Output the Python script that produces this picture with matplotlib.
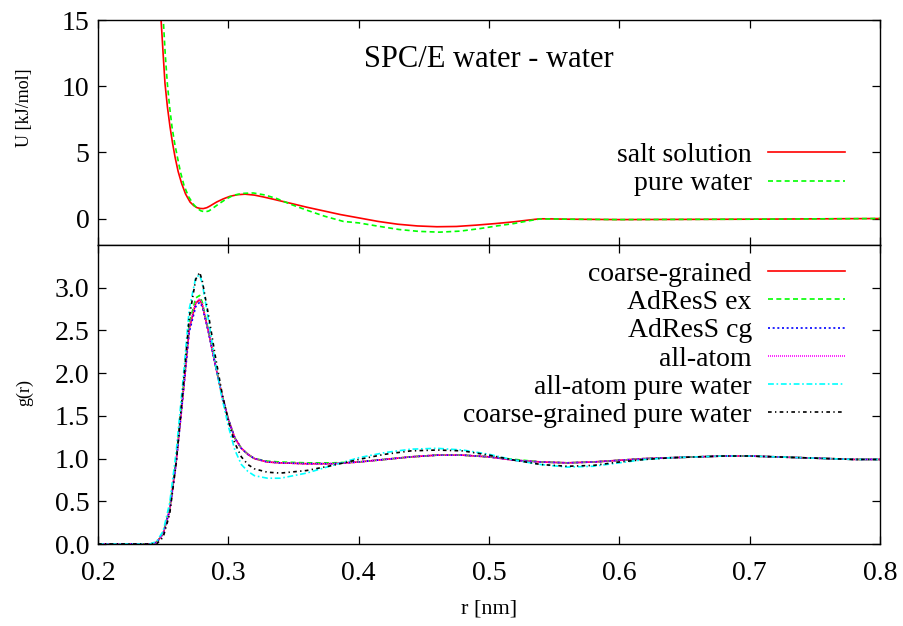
import matplotlib as mpl
mpl.use('Agg')
import matplotlib.pyplot as plt
import numpy as np

plt.rcParams['font.family'] = ['Liberation Serif', 'DejaVu Serif']

# Top panel: potential U(r)
r_u_salt = [0.2460, 0.2484, 0.2500, 0.2514, 0.2533, 0.2553, 0.2572, 0.2591, 0.2615, 0.2642,
            0.2672, 0.2706, 0.2735, 0.2760, 0.2785, 0.2808, 0.2835, 0.2860, 0.2885, 0.2911,
            0.2960, 0.3013, 0.3070, 0.3128, 0.3200, 0.3269, 0.3340, 0.3400, 0.3474, 0.3600,
            0.3730, 0.3860, 0.4000, 0.4150, 0.4300, 0.4450, 0.4600, 0.4750, 0.4900, 0.5050,
            0.5190, 0.5300, 0.5390, 0.5500, 0.5600, 0.6000, 0.7000, 0.8000]
u_salt = [18.0, 15.0, 12.4, 10.2, 8.4, 6.9, 5.7, 4.65, 3.55, 2.64,
          1.85, 1.25, 0.97, 0.82, 0.76, 0.75, 0.82, 0.95, 1.10, 1.25,
          1.48, 1.68, 1.80, 1.84, 1.77, 1.63, 1.47, 1.33, 1.16, 0.86,
          0.58, 0.30, 0.05, -0.22, -0.43, -0.56, -0.62, -0.60, -0.50, -0.38,
          -0.25, -0.12, -0.02, -0.03, -0.05, -0.08, -0.05, 0.0]

r_u_pure = [0.2478, 0.2501, 0.2516, 0.2532, 0.2550, 0.2568, 0.2588, 0.2609, 0.2633, 0.2660,
            0.2695, 0.2732, 0.2760, 0.2790, 0.2821, 0.2850, 0.2870, 0.2895, 0.2923, 0.2980,
            0.3039, 0.3110, 0.3192, 0.3280, 0.3371, 0.3480, 0.3602, 0.3740, 0.3883, 0.4000,
            0.4150, 0.4310, 0.4460, 0.4620, 0.4780, 0.4930, 0.5060, 0.5190, 0.5300, 0.5390,
            0.5500, 0.5600, 0.6000, 0.7000, 0.8000]
u_pure = [18.0, 15.0, 12.4, 10.2, 8.4, 6.9, 5.7, 4.65, 3.5, 2.5,
          1.65, 1.08, 0.78, 0.58, 0.50, 0.57, 0.70, 0.88, 1.08, 1.45,
          1.76, 1.90, 1.93, 1.78, 1.51, 1.07, 0.63, 0.17, -0.22, -0.33,
          -0.58, -0.83, -0.97, -1.03, -0.95, -0.76, -0.56, -0.38, -0.18, -0.03,
          -0.03, -0.05, -0.08, -0.05, 0.0]

# Bottom panel: radial distribution g(r)
r_g = [0.200, 0.240, 0.245, 0.250, 0.255, 0.260, 0.265, 0.270, 0.275, 0.278,
       0.280, 0.285, 0.290, 0.295, 0.300, 0.305, 0.310, 0.315, 0.320, 0.330,
       0.340, 0.360, 0.380, 0.400, 0.420, 0.440, 0.460, 0.480, 0.500, 0.520,
       0.540, 0.560, 0.580, 0.600, 0.620, 0.640, 0.660, 0.680, 0.700, 0.720,
       0.740, 0.760, 0.780, 0.800]

g_cg = [0.00, 0.00, 0.02, 0.12, 0.40, 0.97, 1.72, 2.52, 2.82, 2.86,
        2.80, 2.47, 2.10, 1.75, 1.46, 1.24, 1.12, 1.05, 1.00, 0.96,
        0.95, 0.94, 0.94, 0.96, 0.99, 1.02, 1.04, 1.04, 1.02, 0.98,
        0.96, 0.95, 0.96, 0.98, 1.00, 1.01, 1.02, 1.03, 1.03, 1.02,
        1.01, 1.00, 0.99, 0.99]
g_adress_ex = [0.00, 0.00, 0.02, 0.13, 0.42, 1.00, 1.76, 2.58, 2.88, 2.91,
               2.83, 2.48, 2.10, 1.75, 1.46, 1.24, 1.12, 1.05, 1.00, 0.97,
               0.96, 0.95, 0.95, 0.96, 0.99, 1.02, 1.04, 1.04, 1.02, 0.99,
               0.96, 0.95, 0.96, 0.98, 1.00, 1.01, 1.02, 1.03, 1.03, 1.02,
               1.01, 1.00, 0.99, 0.99]
g_adress_cg = [0.00, 0.00, 0.02, 0.12, 0.39, 0.95, 1.70, 2.48, 2.78, 2.83,
               2.78, 2.46, 2.09, 1.75, 1.46, 1.24, 1.12, 1.05, 1.00, 0.96,
               0.95, 0.94, 0.94, 0.96, 0.99, 1.02, 1.04, 1.04, 1.02, 0.98,
               0.96, 0.95, 0.96, 0.98, 1.00, 1.01, 1.02, 1.03, 1.03, 1.02,
               1.01, 1.00, 0.99, 0.99]
g_aa = [0.00, 0.00, 0.02, 0.12, 0.40, 0.97, 1.73, 2.54, 2.83, 2.87,
        2.81, 2.47, 2.10, 1.75, 1.46, 1.24, 1.12, 1.05, 1.00, 0.96,
        0.95, 0.94, 0.94, 0.96, 0.99, 1.02, 1.04, 1.04, 1.02, 0.98,
        0.96, 0.95, 0.96, 0.98, 1.00, 1.01, 1.02, 1.03, 1.03, 1.02,
        1.01, 1.00, 0.99, 0.99]
g_aa_pure = [0.00, 0.00, 0.03, 0.15, 0.48, 1.08, 1.88, 2.75, 3.12, 3.15,
             3.05, 2.60, 2.12, 1.72, 1.38, 1.10, 0.93, 0.85, 0.80, 0.77,
             0.77, 0.83, 0.92, 1.01, 1.07, 1.11, 1.12, 1.10, 1.05, 0.98,
             0.93, 0.90, 0.91, 0.95, 0.99, 1.01, 1.02, 1.03, 1.03, 1.02,
             1.01, 1.00, 0.99, 0.99]
g_cg_pure = [0.00, 0.00, 0.00, 0.08, 0.35, 0.95, 1.78, 2.65, 3.10, 3.18,
             3.08, 2.66, 2.20, 1.78, 1.44, 1.18, 1.02, 0.93, 0.88, 0.84,
             0.83, 0.86, 0.92, 0.99, 1.05, 1.09, 1.10, 1.09, 1.04, 0.98,
             0.93, 0.91, 0.92, 0.96, 0.99, 1.01, 1.02, 1.03, 1.03, 1.02,
             1.01, 1.00, 0.99, 0.99]

x_ticks = [0.2, 0.3, 0.4, 0.5, 0.6, 0.7, 0.8]
g_ticks = [0.0, 0.5, 1.0, 1.5, 2.0, 2.5, 3.0]
u_ticks = [0, 5, 10, 15]

big = 20
lw = 1.2
leg_kw = dict(loc='upper right', frameon=False, markerfirst=False, fontsize=big,
              handlelength=2.75, handletextpad=0.6, borderpad=0, borderaxespad=0,
              labelspacing=0.1)

fig = plt.figure(figsize=(9.04, 6.26), dpi=100)
ax1 = fig.add_axes([98/904, 1 - 245/626, 782/904, 225/626])
ax2 = fig.add_axes([98/904, 1 - 544/626, 782/904, 299/626])

for ax in (ax1, ax2):
    ax.set_xlim(0.2, 0.8)
    ax.set_xticks(x_ticks)
    ax.tick_params(direction='in', top=True, right=True, length=6, width=0.9,
                   labelsize=big)
    ax.tick_params(axis='y', pad=6)
    ax.tick_params(axis='x', pad=12)
    for s in ax.spines.values():
        s.set_linewidth(1.0)

# ---- top panel
ax1.plot(r_u_salt, u_salt, color='#ff0000', lw=lw, label='salt solution')
ax1.plot(r_u_pure, u_pure, color='#00ff00', lw=lw, dashes=(3, 2), label='pure water')
ax1.set_ylim(-2, 15)
ax1.set_yticks(u_ticks)
ax1.tick_params(axis='x', labelbottom=False)
ax1.set_ylabel('U [kJ/mol]', fontsize=13)
ax1.yaxis.set_label_coords(-0.083, 0.61)
ax1.text(0.5, 12, 'SPC/E water - water', fontsize=22, ha='center', va='center')
ax1.legend(bbox_to_anchor=(0.955, 0.455), **leg_kw)

# ---- bottom panel
ax2.plot(r_g, g_cg, color='#ff0000', lw=lw, label='coarse-grained')
ax2.plot(r_g, g_adress_ex, color='#00ff00', lw=lw, dashes=(3, 2), label='AdResS ex')
ax2.plot(r_g, g_adress_cg, color='#0000ff', lw=lw, dashes=(1.2, 1.6), label='AdResS cg')
ax2.plot(r_g, g_aa, color='#ff00ff', lw=lw, dashes=(0.6, 0.6), label='all-atom')
ax2.plot(r_g, g_aa_pure, color='#00ffff', lw=lw, dashes=(3.5, 1.6, 1.0, 1.6),
         label='all-atom pure water')
ax2.plot(r_g, g_cg_pure, color='#000000', lw=lw, dashes=(2.2, 2.0, 0.8, 2.0),
         label='coarse-grained pure water')
ax2.set_ylim(0, 3.5)
ax2.set_yticks(g_ticks)
ax2.set_yticklabels(['%.1f' % v for v in g_ticks])
ax2.set_xticklabels(['%.1f' % v for v in x_ticks])
ax2.set_ylabel('g(r)', fontsize=13)
ax2.yaxis.set_label_coords(-0.083, 0.508)
ax2.set_xlabel('r [nm]', fontsize=16)
ax2.xaxis.set_label_coords(0.5, -0.185)
ax2.legend(bbox_to_anchor=(0.955, 0.945), **leg_kw)

plt.savefig('out.png', dpi=100)
